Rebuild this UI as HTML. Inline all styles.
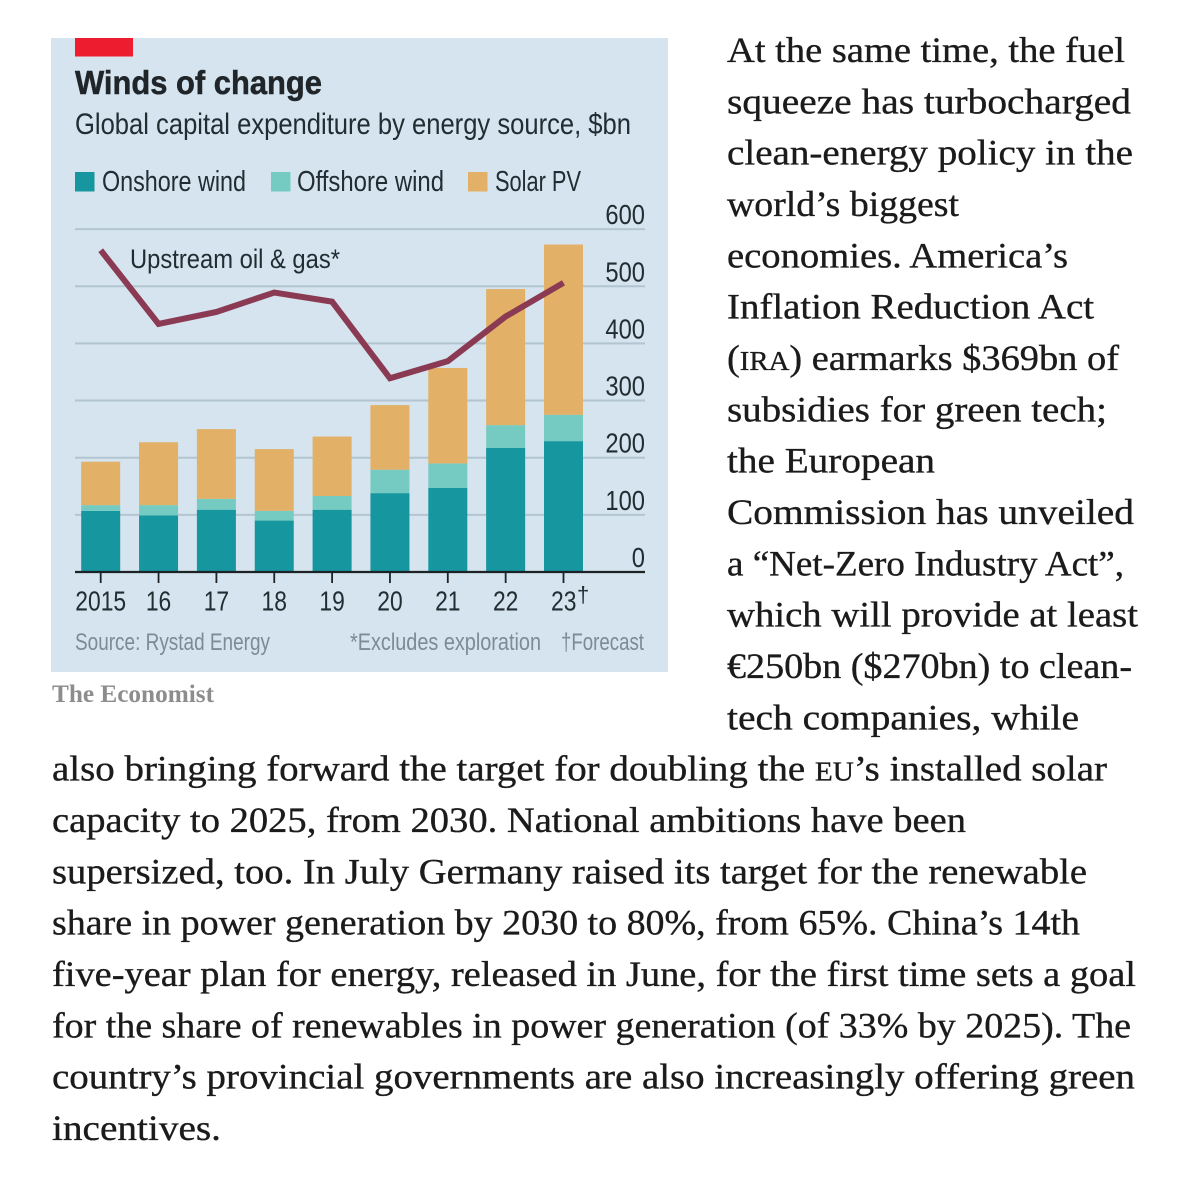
<!DOCTYPE html>
<html lang="en">
<head>
<meta charset="utf-8">
<title>Winds of change</title>
<style>
html,body{margin:0;padding:0;background:#fff;width:1200px;height:1180px;overflow:hidden}
svg{display:block;position:absolute;left:0;top:0}
.body-line{font-family:"Liberation Serif",serif;font-size:36px;fill:#1b1b1b;stroke:#1b1b1b;stroke-width:.35px}
.sc{font-size:27px}
.chart-text{font-family:"Liberation Sans",sans-serif;fill:#222c33}
.note{font-size:24px;fill:#7c8b95}
</style>
</head>
<body>
<svg id="page" width="1200" height="1180" viewBox="0 0 1200 1180" xmlns="http://www.w3.org/2000/svg">
  <rect x="51" y="38" width="617" height="634" fill="#d5e4ee"/>
  <rect x="75" y="38" width="58" height="18.5" fill="#ed1c2e"/>
  <text class="chart-text" x="75" y="94" font-size="33" font-weight="bold" style="fill:#1f2529;stroke:#1f2529;stroke-width:.5px" textLength="247" lengthAdjust="spacingAndGlyphs">Winds of change</text>
  <text class="chart-text" x="75" y="134" font-size="29.5" textLength="556" lengthAdjust="spacingAndGlyphs">Global capital expenditure by energy source, $bn</text>

  <g>
    <rect x="75" y="172" width="19.5" height="19.5" fill="#16969f"/>
    <text class="chart-text" x="102" y="191" font-size="29" textLength="144" lengthAdjust="spacingAndGlyphs">Onshore wind</text>
    <rect x="271" y="172" width="19.5" height="19.5" fill="#75cbc2"/>
    <text class="chart-text" x="297" y="191" font-size="29" textLength="147" lengthAdjust="spacingAndGlyphs">Offshore wind</text>
    <rect x="468" y="172" width="19.5" height="19.5" fill="#e2b066"/>
    <text class="chart-text" x="495" y="191" font-size="29" textLength="86" lengthAdjust="spacingAndGlyphs">Solar PV</text>
  </g>

  <g id="grid"></g>
  <g id="bars"></g>
  <g id="axis"></g>
  <g id="line"></g>

  <text class="chart-text" x="130" y="268" font-size="27" textLength="210" lengthAdjust="spacingAndGlyphs">Upstream oil &amp; gas*</text>

  <text class="chart-text note" x="75" y="650" textLength="195" lengthAdjust="spacingAndGlyphs">Source: Rystad Energy</text>
  <text class="chart-text note" x="350" y="650" textLength="191" lengthAdjust="spacingAndGlyphs">*Excludes exploration</text>
  <text class="chart-text note" x="561" y="650" textLength="83" lengthAdjust="spacingAndGlyphs">†Forecast</text>

  <text x="52" y="702" font-family="'Liberation Serif',serif" font-size="25" font-weight="bold" fill="#8d8d8d" textLength="162" lengthAdjust="spacingAndGlyphs">The Economist</text>

  <g>
    <text class="body-line" x="727" y="62" textLength="398" lengthAdjust="spacingAndGlyphs">At the same time, the fuel</text>
    <text class="body-line" x="727" y="113.3" textLength="404" lengthAdjust="spacingAndGlyphs">squeeze has turbocharged</text>
    <text class="body-line" x="727" y="164.7" textLength="406" lengthAdjust="spacingAndGlyphs">clean-energy policy in the</text>
    <text class="body-line" x="727" y="216" textLength="232" lengthAdjust="spacingAndGlyphs">world’s biggest</text>
    <text class="body-line" x="727" y="267.4" textLength="341" lengthAdjust="spacingAndGlyphs">economies. America’s</text>
    <text class="body-line" x="727" y="318.7" textLength="367" lengthAdjust="spacingAndGlyphs">Inflation Reduction Act</text>
    <text class="body-line" x="727" y="370" textLength="392" lengthAdjust="spacingAndGlyphs">(<tspan class="sc">IRA</tspan>) earmarks $369bn of</text>
    <text class="body-line" x="727" y="421.4" textLength="380" lengthAdjust="spacingAndGlyphs">subsidies for green tech;</text>
    <text class="body-line" x="727" y="472.7" textLength="208" lengthAdjust="spacingAndGlyphs">the European</text>
    <text class="body-line" x="727" y="524" textLength="407" lengthAdjust="spacingAndGlyphs">Commission has unveiled</text>
    <text class="body-line" x="727" y="575.4" textLength="397" lengthAdjust="spacingAndGlyphs">a “Net-Zero Industry Act”,</text>
    <text class="body-line" x="727" y="626.7" textLength="411" lengthAdjust="spacingAndGlyphs">which will provide at least</text>
    <text class="body-line" x="727" y="678" textLength="405" lengthAdjust="spacingAndGlyphs">€250bn ($270bn) to clean-</text>
    <text class="body-line" x="727" y="729.4" textLength="352" lengthAdjust="spacingAndGlyphs">tech companies, while</text>
    <text class="body-line" x="52" y="780.7" textLength="1055" lengthAdjust="spacingAndGlyphs">also bringing forward the target for doubling the <tspan class="sc">EU</tspan>’s installed solar</text>
    <text class="body-line" x="52" y="832" textLength="914" lengthAdjust="spacingAndGlyphs">capacity to 2025, from 2030. National ambitions have been</text>
    <text class="body-line" x="52" y="883.4" textLength="1035" lengthAdjust="spacingAndGlyphs">supersized, too. In July Germany raised its target for the renewable</text>
    <text class="body-line" x="52" y="934.7" textLength="1028" lengthAdjust="spacingAndGlyphs">share in power generation by 2030 to 80%, from 65%. China’s 14th</text>
    <text class="body-line" x="52" y="986" textLength="1084" lengthAdjust="spacingAndGlyphs">five-year plan for energy, released in June, for the first time sets a goal</text>
    <text class="body-line" x="52" y="1037.4" textLength="1079" lengthAdjust="spacingAndGlyphs">for the share of renewables in power generation (of 33% by 2025). The</text>
    <text class="body-line" x="52" y="1088.7" textLength="1083" lengthAdjust="spacingAndGlyphs">country’s provincial governments are also increasingly offering green</text>
    <text class="body-line" x="52" y="1140" textLength="169" lengthAdjust="spacingAndGlyphs">incentives.</text>
  </g>
</svg>

<script>
const categories = ['2015', '16', '17', '18', '19', '20', '21', '22', '23'];
const onshoreWind = [107, 99, 109, 90, 109, 138, 147, 217, 229];
const offshoreWind = [10, 18, 19, 17, 24, 41, 43, 40, 46];
const solarPV = [76, 110, 122, 108, 104, 113, 167, 238, 298];
const upstreamOilGas = [563, 434, 455, 489, 473, 339, 369, 447, 506];
const yTicks = [0, 100, 200, 300, 400, 500, 600];

const NS = 'http://www.w3.org/2000/svg';
const y = v => 572 - v * 0.5715;
const x = i => 100.7 + i * 57.85;
const BAR_W = 39;

function make(tag, attrs, parent) {
  const el = document.createElementNS(NS, tag);
  for (const k in attrs) el.setAttribute(k, attrs[k]);
  parent.appendChild(el);
  return el;
}

const gridG = document.getElementById('grid');
const axisG = document.getElementById('axis');
const barsG = document.getElementById('bars');
const lineG = document.getElementById('line');

yTicks.forEach(t => {
  if (t > 0) {
    const g = make('line', {x1: 75, x2: 645, y1: y(t), y2: y(t), stroke: '#b3c5d0', 'stroke-width': 2}, gridG);
    
    
  }
  const lab = make('text', {x: 645, y: y(t) - 5, 'text-anchor': 'end', 'font-size': 27.5, 'class': 'chart-text', textLength: String(t).length * 13.2, lengthAdjust: 'spacingAndGlyphs'}, axisG);
  lab.textContent = t;
  
  
});

const stacks = [
  {name: 'onshore-wind', values: onshoreWind, color: '#16969f'},
  {name: 'offshore-wind', values: offshoreWind, color: '#75cbc2'},
  {name: 'solar-pv', values: solarPV, color: '#e2b066'}
];

categories.forEach((c, i) => {
  let base = 0;
  stacks.forEach(s => {
    const top = base + s.values[i];
    const r = make('rect', {x: x(i) - BAR_W / 2, y: y(top), width: BAR_W, height: y(base) - y(top), fill: s.color}, barsG);
    
    
    base = top;
  });

  const tick = make('line', {x1: x(i), x2: x(i), y1: 572, y2: 583, stroke: '#1d2226', 'stroke-width': 1.8}, axisG);
  
  

  const last = i === categories.length - 1;
  const lab = make('text', {x: last ? x(i) - 12.5 : x(i), y: 610.5, 'text-anchor': last ? 'start' : 'middle', 'font-size': 27.5, 'class': 'chart-text', textLength: c.length * 12.7, lengthAdjust: 'spacingAndGlyphs'}, axisG);
  lab.textContent = c;
  
  
  if (last) {
    const dag = make('text', {x: x(i) + 13.5, y: 602, 'font-size': 22, 'class': 'chart-text'}, axisG);
    dag.textContent = '†';
    
    
  }
});

const axisLine = make('line', {x1: 75, x2: 645, y1: 572, y2: 572, stroke: '#1d2226', 'stroke-width': 2.2}, axisG);



const pts = upstreamOilGas.map((v, i) => x(i) + ',' + y(v)).join(' ');
const poly = make('polyline', {points: pts, fill: 'none', stroke: '#8b3a54', 'stroke-width': 6, 'stroke-linejoin': 'miter'}, lineG);


</script>
</body>
</html>
